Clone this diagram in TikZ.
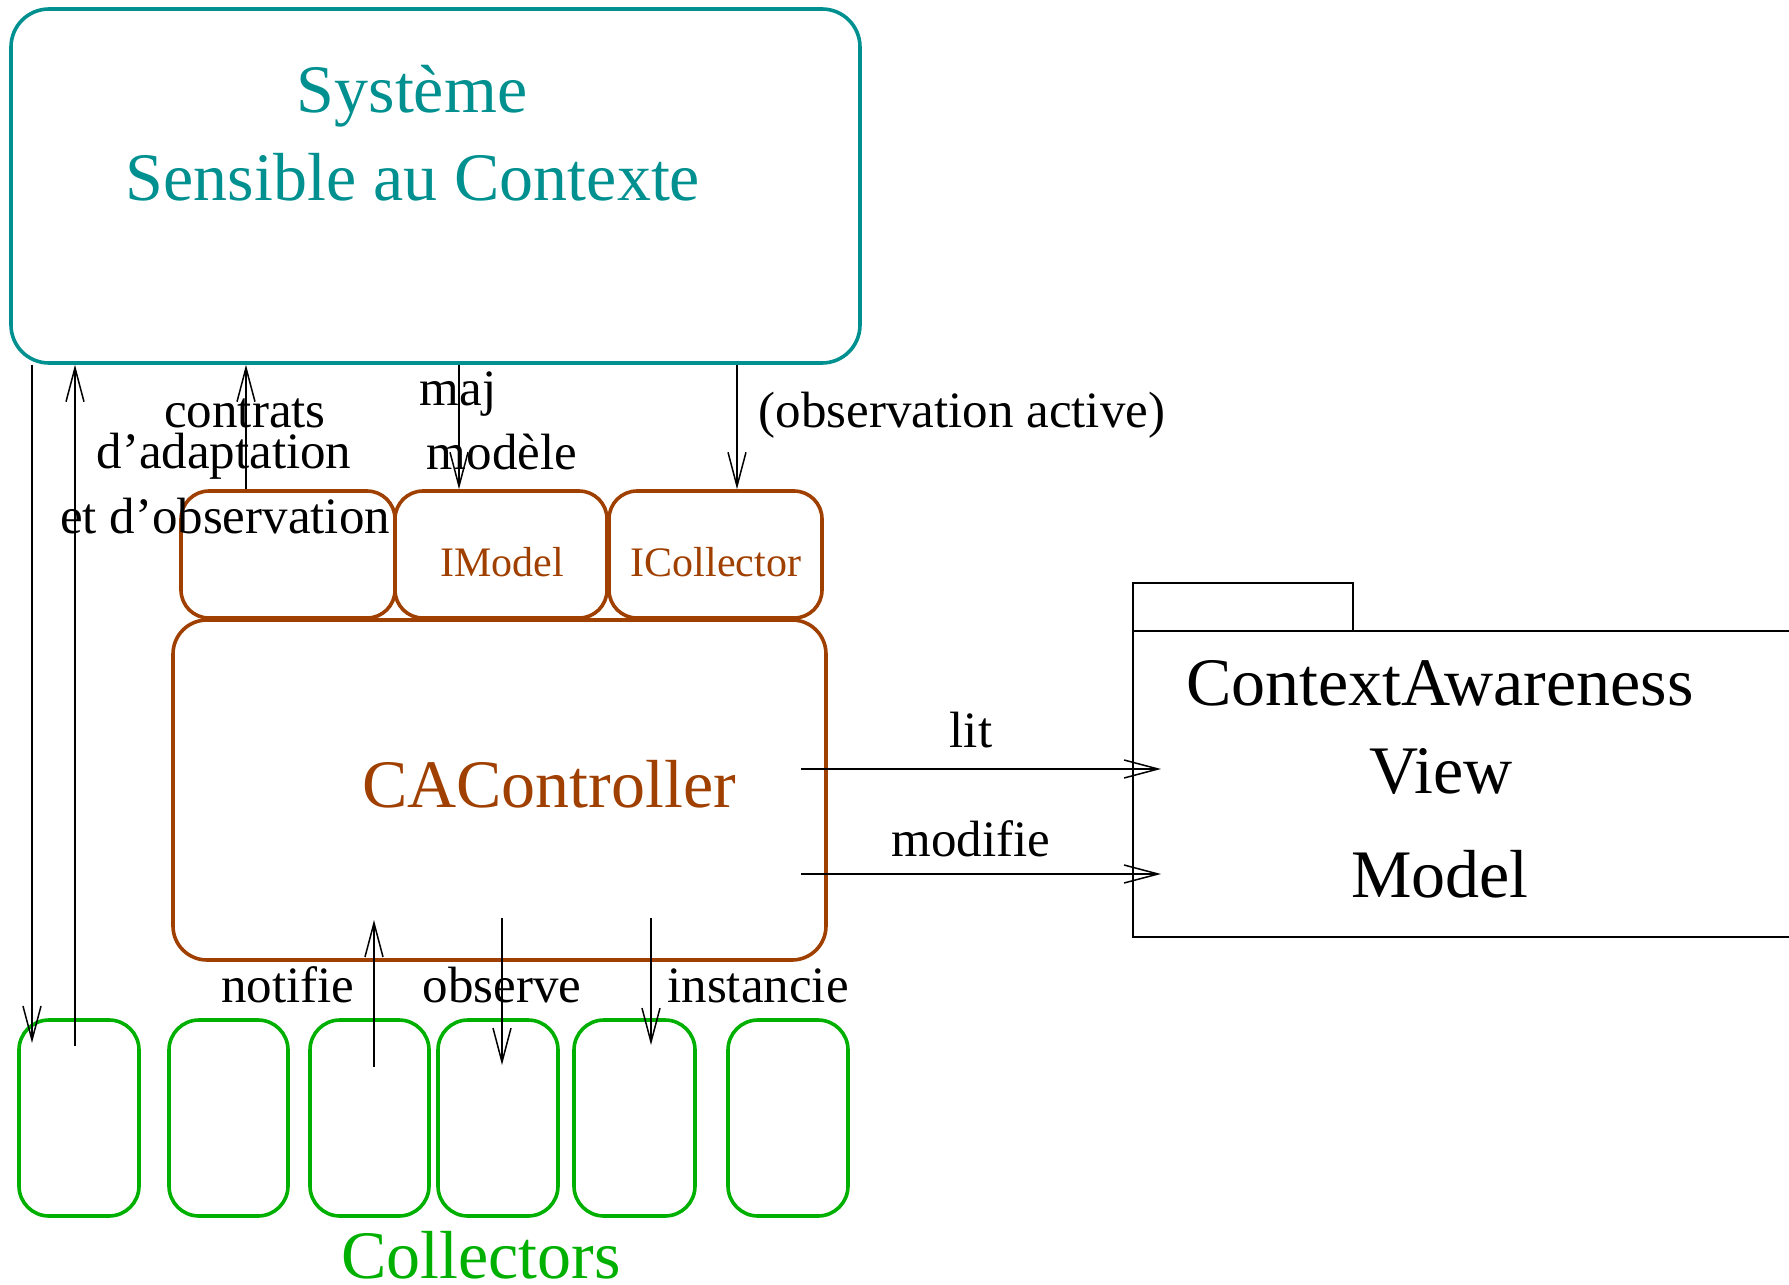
\documentclass[tikz,border=0pt]{standalone}
\usepackage{fontspec}
\setmainfont{Liberation Serif}
\usetikzlibrary{arrows.meta,fit}
\definecolor{tealc}{HTML}{009090}
\definecolor{brownc}{HTML}{A04000}
\definecolor{greenc}{HTML}{00B000}
\begin{document}
\begin{tikzpicture}[x=0.5pt,y=-0.5pt,
  sysbox/.style={draw=tealc, line width=1.8pt, rounded corners=19pt, inner sep=0pt},
  ifbox/.style={draw=brownc, line width=1.8pt, rounded corners=14pt, inner sep=0pt},
  ctrlbox/.style={draw=brownc, line width=1.8pt, rounded corners=17pt, inner sep=0pt},
  colbox/.style={draw=greenc, line width=1.8pt, rounded corners=15pt, inner sep=0pt},
  big/.style={font=\fontsize{34}{40}\selectfont, inner sep=0pt, anchor=base},
  lbl/.style={font=\fontsize{25.5}{30}\selectfont, inner sep=0pt, anchor=base},
  small/.style={font=\fontsize{21}{25}\selectfont, inner sep=0pt, anchor=base, text=brownc},
  arr/.style={line width=0.75pt, -{Straight Barb[length=17pt,width=9pt,line width=0.75pt]}},
  pkgline/.style={line width=1pt}]
\useasboundingbox (0,0) rectangle (1789,1285);
% system box
\node[sysbox, fit={(11,9) (860,363)}] (sys) {};
\node[big, text=tealc] (t1) at (412,112) {Système};
\node[big, text=tealc] (t2) at (413,200) {Sensible au Contexte};
% interface boxes
\node[ifbox, fit={(181,491) (395,618)}] (box1) {};
\node[ifbox, fit={(395,491) (607,618)}] (imodel) {};
\node[ifbox, fit={(609,491) (822,618)}] (icoll) {};
\node[small] (timodel) at (502,576) {IModel};
\node[small] (ticoll) at (716,576) {ICollector};
% controller
\node[ctrlbox, fit={(173,620) (826,960)}] (ctrl) {};
\node[big, text=brownc] (tctrl) at (549,807) {CAController};
% collectors
\node[colbox, fit={(19,1020) (139,1216)}] (c1) {};
\node[colbox, fit={(169,1020) (288,1216)}] (c2) {};
\node[colbox, fit={(310,1020) (429,1216)}] (c3) {};
\node[colbox, fit={(438,1020) (558,1216)}] (c4) {};
\node[colbox, fit={(574,1020) (695,1216)}] (c5) {};
\node[colbox, fit={(728,1020) (848,1216)}] (c6) {};
\node[big, text=greenc] (tcol) at (481,1278) {Collectors};
% package
\node[draw, pkgline, inner sep=0pt, fit={(1133,583) (1353,631)}] (pkgtab) {};
\coordinate (pkgtl) at (1133,631);
\coordinate (pkgbl) at (1133,937);
\draw[pkgline] (1800,631) -- (pkgtl) -- (pkgbl) -- (1800,937);
\node[big] (tca) at (1440,705) {ContextAwareness};
\node[big] (tview) at (1441,793) {View};
\node[big] (tmodel) at (1440,897) {Model};
% connector coordinates
\coordinate (a1) at (32,1043);
\coordinate (a2) at (75,1046);
\coordinate (a3) at (246,0);
\coordinate (a4) at (459,0);
\coordinate (a5) at (737,0);
\coordinate (lits) at (801,769);
\coordinate (lite) at (1161,769);
\coordinate (mods) at (801,874);
\coordinate (mode) at (1161,874);
\coordinate (nots) at (374,1067);
\coordinate (note) at (374,920);
\coordinate (obss) at (502,918);
\coordinate (obse) at (502,1065);
\coordinate (inss) at (651,918);
\coordinate (inse) at (651,1045);
% connectors
\draw[arr] (sys.south -| a1) -- (a1);
\draw[arr] (a2) -- (a2 |- sys.south);
\draw[arr] (box1.north -| a3) -- (sys.south -| a3);
\draw[arr] (sys.south -| a4) -- (imodel.north -| a4);
\draw[arr] (sys.south -| a5) -- (icoll.north -| a5);
\draw[arr] (lits) -- (lite);
\draw[arr] (mods) -- (mode);
\draw[arr] (nots) -- (note);
\draw[arr] (obss) -- (obse);
\draw[arr] (inss) -- (inse);
% labels
\node[lbl] (l1) at (245,427) {contrats};
\node[lbl] (l2) at (224,468) {d’adaptation};
\node[lbl] (l3) at (225,533) {et d’observation};
\node[lbl] (l4) at (458,405) {maj};
\node[lbl] (l5) at (502,469) {modèle};
\node[lbl] (l6) at (962,427) {(observation active)};
\node[lbl] (l7) at (971,747) {lit};
\node[lbl] (l8) at (971,856) {modifie};
\node[lbl] (l9) at (288,1002) {notifie};
\node[lbl] (l10) at (502,1002) {observe};
\node[lbl] (l11) at (758,1002) {instancie};
\end{tikzpicture}
\end{document}
